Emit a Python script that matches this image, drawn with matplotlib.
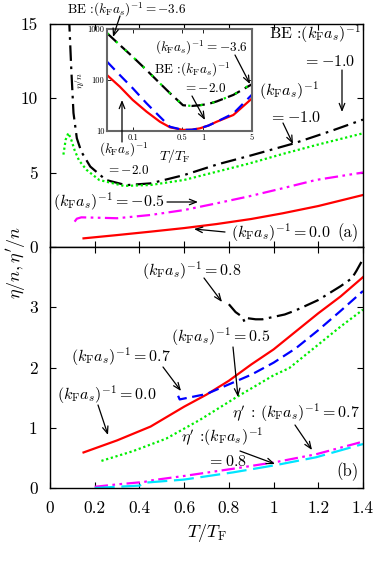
import matplotlib
matplotlib.use("Agg")
import matplotlib.pyplot as plt
import numpy as np

plt.rcParams['mathtext.fontset'] = 'cm'
plt.rcParams['font.family'] = ['cmr10', 'DejaVu Serif']
plt.rcParams['axes.formatter.use_mathtext'] = True
plt.rcParams['axes.unicode_minus'] = False

# ---------------- data ----------------
# panel (a)
xa_be_m10 = [0.085, 0.095, 0.105, 0.12, 0.14, 0.18, 0.25, 0.34, 0.45, 0.6, 0.75, 0.9, 1.09, 1.25, 1.4]
ya_be_m10 = [15.5, 12.0, 9.0, 7.3, 6.4, 5.4, 4.5, 4.15, 4.27, 4.83, 5.55, 6.15, 6.95, 7.75, 8.55]
xa_m10 = [0.06, 0.07, 0.082, 0.095, 0.11, 0.13, 0.164, 0.22, 0.33, 0.45, 0.6, 0.745, 0.89, 1.04, 1.19, 1.4]
ya_m10 = [6.2, 7.2, 7.65, 7.2, 6.5, 5.8, 5.17, 4.5, 4.1, 4.16, 4.5, 5.05, 5.6, 6.24, 6.84, 7.63]
xa_m05 = [0.11, 0.12, 0.14, 0.2, 0.3, 0.45, 0.6, 0.745, 0.89, 1.04, 1.19, 1.4]
ya_m05 = [1.70, 1.90, 1.99, 1.97, 1.93, 2.15, 2.48, 2.93, 3.4, 3.94, 4.5, 5.0]
xa_00 = [0.15, 0.3, 0.45, 0.6, 0.745, 0.9, 1.04, 1.2, 1.4]
ya_00 = [0.58, 0.8, 1.03, 1.27, 1.54, 1.88, 2.26, 2.75, 3.49]

# panel (b)
xb_08 = [0.80, 0.83, 0.86, 0.87, 0.88, 0.92, 0.95, 1.0, 1.05, 1.1, 1.2, 1.3, 1.35, 1.37, 1.4]
yb_08 = [3.05, 2.92, 2.84, 2.76, 2.82, 2.80, 2.80, 2.84, 2.88, 2.95, 3.12, 3.35, 3.48, 3.6, 3.8]
xb_00 = [0.15, 0.3, 0.45, 0.6, 0.7, 0.8, 0.9, 1.0, 1.1, 1.2, 1.3, 1.4]
yb_00 = [0.59, 0.79, 1.02, 1.35, 1.55, 1.78, 2.05, 2.3, 2.6, 2.9, 3.18, 3.5]
xb_07 = [0.573, 0.58, 0.62, 0.7, 0.8, 0.9, 1.0, 1.1, 1.2, 1.3, 1.4]
yb_07 = [1.53, 1.47, 1.50, 1.56, 1.72, 1.88, 2.08, 2.32, 2.62, 2.94, 3.27]
xb_05 = [0.23, 0.37, 0.52, 0.67, 0.835, 1.0, 1.07, 1.19, 1.3, 1.4]
yb_05 = [0.45, 0.61, 0.82, 1.13, 1.51, 1.87, 1.99, 2.35, 2.68, 2.96]
xb_p07 = [0.2, 0.3, 0.42, 0.46, 0.6, 0.82, 1.01, 1.19, 1.4]
yb_p07 = [0.02, 0.06, 0.10, 0.13, 0.20, 0.32, 0.43, 0.56, 0.77]
xb_p08 = [0.2, 0.3, 0.40, 0.43, 0.6, 0.82, 1.01, 1.19, 1.4]
yb_p08 = [0.0, 0.02, 0.04, 0.09, 0.14, 0.26, 0.38, 0.51, 0.73]

# inset (log-log)
x_in = [0.043, 0.0655, 0.1, 0.157, 0.244, 0.34, 0.52, 0.7, 0.906, 1.2, 1.57, 2.71, 4.95]
y_in_be_m36 = [830, 485, 285, 157, 86, 55, 32, 31, 32, 34, 38, 51, 82]
y_in_m36 = [830, 485, 285, 157, 86, 55, 32, 31, 32, 34, 38, 51, 84]
y_in_be_m20 = [229, 125, 69, 35, 19, 12.1, 10.5, 10.6, 11.3, 12.8, 15.2, 22, 51]
y_in_m20 = [125, 74, 40.6, 24, 15.2, 11.8, 10.5, 10.6, 11.3, 12.8, 15.2, 20.6, 43]

xticks = [0, 0.2, 0.4, 0.6, 0.8, 1.0, 1.2, 1.4]
xticklabels = ['0', '0.2', '0.4', '0.6', '0.8', '1', '1.2', '1.4']

# ---------------- figure ----------------
W, H = 382, 562
fig = plt.figure(figsize=(W / 100, H / 100), dpi=100)

def ax_rect(l, t, r, b):
    return [l / W, 1 - b / H, (r - l) / W, (b - t) / H]

axa = fig.add_axes(ax_rect(50, 23.5, 363, 247))
axb = fig.add_axes(ax_rect(50, 247, 363, 488))

dashdot = (0, (7, 2.5, 1.2, 2.5))
dashdotdot = (0, (6, 2, 1.2, 2, 1.2, 2))
lw = 1.6

axa.plot(xa_be_m10, ya_be_m10, color='black', lw=lw, ls=dashdot)
axa.plot(xa_m10, ya_m10, color='#00ee00', lw=lw, ls=(0, (1, 1.2)))
axa.plot(xa_m05, ya_m05, color='#ff00ff', lw=lw, ls=dashdotdot)
axa.plot(xa_00, ya_00, color='red', lw=lw)

axb.plot(xb_08, yb_08, color='black', lw=lw, ls=dashdot)
axb.plot(xb_00, yb_00, color='red', lw=lw)
axb.plot(xb_07, yb_07, color='blue', lw=lw, ls=(0, (5, 2.5)))
axb.plot(xb_05, yb_05, color='#00ee00', lw=lw, ls=(0, (1, 1.2)))
axb.plot(xb_p07, yb_p07, color='#ff00ff', lw=lw, ls=dashdotdot)
axb.plot(xb_p08, yb_p08, color='#00e5ff', lw=lw, ls=(0, (9, 3)))

for ax in (axa, axb):
    ax.set_xlim(0, 1.4)
    ax.set_xticks(xticks)
    ax.tick_params(direction='in', top=True, right=True, length=4, width=0.8,
                   labelsize=12.5, pad=9)
    for s in ax.spines.values():
        s.set_linewidth(1.0)

axa.set_ylim(0, 15)
axa.set_yticks([0, 5, 10, 15])
axa.set_yticklabels(['0', '5', '10', '15'])
axa.set_xticklabels([])

axb.set_ylim(0, 4)
axb.set_yticks([0, 1, 2, 3, 4])
axb.set_yticklabels(['0', '1', '2', '3', ''])
axb.set_xticklabels(xticklabels)

# inset
axi = fig.add_axes(ax_rect(107, 29, 252, 131), zorder=5)
axi.set_xscale('log')
axi.set_yscale('log')
axi.plot(x_in, y_in_be_m36, color='black', lw=lw, ls=(0, (6, 2.5)))
axi.plot(x_in, y_in_m36, color='#00ee00', lw=lw, ls=(0, (1, 4.5)))
axi.plot(x_in, y_in_m20, color='red', lw=lw)
axi.plot(x_in, y_in_be_m20, color='blue', lw=lw, ls=(0, (5, 3)))
axi.set_xlim(0.043, 5)
axi.set_ylim(10, 1000)
axi.set_xticks([0.1, 0.5, 1, 5])
axi.set_xticklabels(['0.1', '0.5', '1', '5'])
axi.set_yticks([10, 100, 1000])
axi.set_yticklabels(['10', '100', '1000'])
axi.minorticks_off()
axi.tick_params(direction='in', top=True, right=True, length=3, width=0.6,
                labelsize=6, pad=2, colors='black')
for s in axi.spines.values():
    s.set_linewidth(1.5)
    s.set_edgecolor('#666666')
axi.set_ylabel(r'$\eta/n$', fontsize=7, labelpad=1)

# overlay for texts/arrows in pixel coordinates
ov = fig.add_axes([0, 0, 1, 1], zorder=10)
ov.set_xlim(0, W)
ov.set_ylim(H, 0)
ov.axis('off')
ov.patch.set_alpha(0)

K = r'(k_{\mathrm{F}}a_s)^{-1}'

def txt(x, y, s, size=11.5, ha='center'):
    ov.text(x, y, s, fontsize=size, ha=ha, va='center')

def arrow(x0, y0, x1, y1):
    ov.annotate('', xy=(x1, y1), xytext=(x0, y0),
                arrowprops=dict(arrowstyle='->,head_length=0.5,head_width=0.2',
                                lw=0.9, color='black', shrinkA=0, shrinkB=0))

# panel (a) labels
txt(127, 10, r'BE :$' + K + r'=-3.6$', size=9.5)
arrow(120, 16, 113, 37)
txt(315, 34, r'BE :$' + K + r'$', size=11.5)
txt(329, 62, r'$=-1.0$', size=11.5)
arrow(342, 70, 342, 112)
txt(289, 91, r'$' + K + r'$', size=11.5)
txt(295, 118, r'$=-1.0$', size=11.5)
arrow(283, 123, 293, 144)
txt(109, 202, r'$' + K + r'=-0.5$', size=11.5)
arrow(167, 202, 198, 202)
txt(281, 233, r'$' + K + r'=0.0$', size=11.5)
arrow(225, 232, 194, 229)
txt(348, 233, '(a)', size=12)

# inset labels
txt(201, 48, r'$' + K + r'=-3.6$', size=9.5)
arrow(235, 55, 250, 84)
txt(192, 70, r'BE :$' + K + r'$', size=9.5)
txt(205, 89, r'$=-2.0$', size=9.5)
arrow(192, 96, 205, 120)
txt(124, 150, r'$' + K + r'$', size=9.5)
txt(128, 170, r'$=-2.0$', size=9.5)
arrow(122, 142, 122, 100)
txt(175, 156, r'$T/T_{\mathrm{F}}$', size=10)

# panel (b) labels
txt(192, 271, r'$' + K + r'=0.8$', size=11.5)
arrow(204, 278, 222, 302)
txt(221, 337, r'$' + K + r'=0.5$', size=11.5)
arrow(233, 347, 238, 397)
txt(121, 357, r'$' + K + r'=0.7$', size=11.5)
arrow(163, 367, 181, 391)
txt(107, 395, r'$' + K + r'=0.0$', size=11.5)
arrow(98, 405, 108, 435)
txt(296, 413, r"$\eta'$ : $" + K + r'=0.7$', size=11.5)
arrow(295, 425, 312, 450)
txt(222, 437, r"$\eta'$ :$" + K + r'$', size=11.5)
txt(227, 462, r'$=0.8$', size=11.5)
arrow(240, 451, 275, 464)
txt(347, 472, '(b)', size=12)

# axis labels
ov.text(16, 262, r"$\eta/n, \eta'/n$", fontsize=13, rotation=90, ha='center', va='center')
ov.text(207, 533, r'$T/T_{\mathrm{F}}$', fontsize=13, ha='center', va='center')

fig.savefig('out.png', dpi=100)
